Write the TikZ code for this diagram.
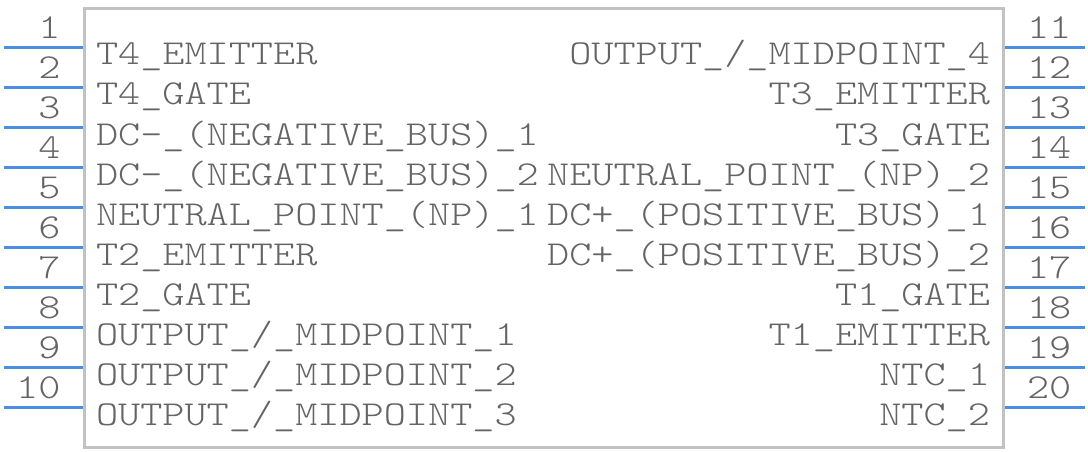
\documentclass[tikz,border=0pt]{standalone}
\usepackage{fontspec}
\usepackage{graphicx}
\definecolor{pinblue}{RGB}{74,144,226}
\definecolor{txtgray}{RGB}{100,100,100}
\definecolor{boxgray}{RGB}{194,194,194}
\newcommand{\pintext}[1]{\scalebox{1.205}[1]{#1}}
\begin{document}
\begin{tikzpicture}[x=1pt,y=-1pt,
  pinline/.style={draw=pinblue, line width=3pt},
  lbl/.style={inner sep=0pt, outer sep=0pt, text=txtgray, font=\fontsize{35}{40}\ttfamily\fontseries{l}\selectfont},
  bodybox/.style={draw=boxgray, line width=3pt, inner sep=0pt, minimum width=919pt, minimum height=438pt}]
\useasboundingbox (0,0) rectangle (1088,452);
\node[bodybox] (body) at (543.5,228) {};
\foreach [count=\i] \t in {{T4\_EMITTER},{T4\_GATE},{DC-\_(NEGATIVE\_BUS)\_1},{DC-\_(NEGATIVE\_BUS)\_2},{NEUTRAL\_POINT\_(NP)\_1},{T2\_EMITTER},{T2\_GATE},{OUTPUT\_/\_MIDPOINT\_1},{OUTPUT\_/\_MIDPOINT\_2},{OUTPUT\_/\_MIDPOINT\_3}}{
  \coordinate (L\i) at (4,{47.5+40*(\i-1)});
  \draw[pinline] (L\i) -- (body.west |- L\i);
  \node[lbl, anchor=base east] (nL\i) at (60.5,{38.5+40*(\i-1)}) {\pintext{\i}};
  \node[lbl, anchor=base west] (tL\i) at (96,{65+40*(\i-1)}) {\pintext{\t}};
}
\foreach [count=\i] \t in {{OUTPUT\_/\_MIDPOINT\_4},{T3\_EMITTER},{T3\_GATE},{NEUTRAL\_POINT\_(NP)\_2},{DC+\_(POSITIVE\_BUS)\_1},{DC+\_(POSITIVE\_BUS)\_2},{T1\_GATE},{T1\_EMITTER},{NTC\_1},{NTC\_2}}{
  \pgfmathtruncatemacro{\n}{\i+10}
  \coordinate (R\i) at (1085,{47.5+40*(\i-1)});
  \draw[pinline] (body.east |- R\i) -- (R\i);
  \node[lbl, anchor=base west] (nR\i) at (1027,{38.5+40*(\i-1)}) {\pintext{\n}};
  \node[lbl, anchor=base east] (tR\i) at (990,{65+40*(\i-1)}) {\pintext{\t}};
}
\end{tikzpicture}
\end{document}
